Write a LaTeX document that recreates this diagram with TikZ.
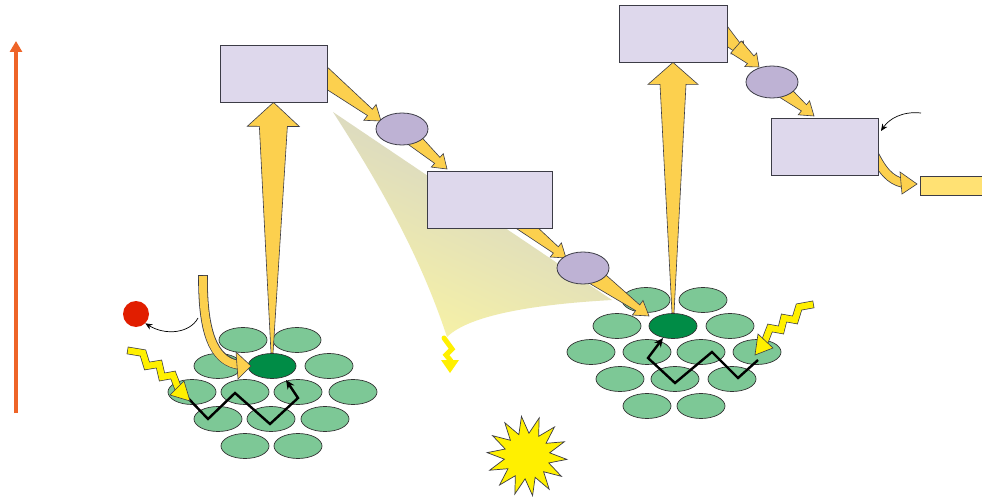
\documentclass[tikz,border=0pt]{standalone}
\usetikzlibrary{calc,shapes.geometric,arrows.meta}

\definecolor{boxfill}{RGB}{222,216,236}
\definecolor{edgegray}{RGB}{60,60,70}
\definecolor{carrier}{RGB}{190,178,212}
\definecolor{flow}{RGB}{252,208,78}
\definecolor{leaf}{RGB}{125,200,150}
\definecolor{core}{RGB}{0,140,70}
\definecolor{bolt}{RGB}{255,240,0}
\definecolor{axis}{RGB}{238,100,40}
\definecolor{redox}{RGB}{225,30,0}
\definecolor{product}{RGB}{255,225,115}
\definecolor{hazetop}{RGB}{208,208,204}
\definecolor{hazemid}{RGB}{220,219,208}
\definecolor{hazebot}{RGB}{247,242,165}

\pgfdeclarelayer{haze}
\pgfdeclarelayer{under}
\pgfsetlayers{haze,under,main}

\tikzset{
  pbox/.style={rectangle, draw=edgegray, fill=boxfill, line width=0.8pt, inner sep=0pt},
  carrierell/.style={ellipse, draw=edgegray, fill=carrier, line width=0.8pt, minimum width=52pt, minimum height=32pt, inner sep=0pt},
  antenna/.style={ellipse, draw=black!80, fill=leaf, line width=0.7pt, minimum width=48pt, minimum height=25pt, inner sep=0pt},
  centre/.style={antenna, fill=core},
  flowshape/.style={fill=flow, draw=edgegray, line width=0.6pt, line join=miter},
  boltshape/.style={fill=bolt, draw=edgegray, line width=0.6pt, line join=miter},
  hop/.style={draw=black, line width=2.4pt, line join=miter, -{Stealth[length=9pt,width=8pt]}},
  thinarrow/.style={draw=black, line width=0.7pt, -{Stealth[length=7pt,width=6pt]}},
}

% tapered block arrow: start, tip, start half-width, neck half-width, head half-width, head length
\newcommand{\flowarrow}[6]{%
  \coordinate (faS) at (#1);
  \coordinate (faT) at (#2);
  \coordinate (faH) at ($(faT)!#6!(faS)$);
  \filldraw[flowshape] ($(faS)!#3!90:(faT)$) -- ($(faH)!#4!-90:(faS)$)
    -- ($(faH)!#5!-90:(faS)$) -- (faT) -- ($(faH)!#5!90:(faS)$)
    -- ($(faH)!#4!90:(faS)$) -- ($(faS)!#3!-90:(faT)$) -- cycle;}

\begin{document}
\begin{tikzpicture}[x=1pt,y=-1pt]
\useasboundingbox (0,0) rectangle (982,497);
\begin{pgfonlayer}{haze}
\fill[white] (0,0) rectangle (982,497);
% emission haze below the chain
\shade[top color=hazetop, middle color=hazemid, bottom color=hazebot, shading angle=-25]
  (333,112) -- (612,300) .. controls (540,304) and (470,314) .. (447,337)
  .. controls (420,255) and (380,185) .. cycle;
\draw[bolt, line width=5pt, line cap=round, line join=miter] (444,338) -- (452,349) -- (446,355) -- (451,361);
\fill[bolt] (441,360) -- (459,360) -- (450,373) -- cycle;
\end{pgfonlayer}

% energy axis
\coordinate (axisfoot) at (16,413);
\coordinate (axishead) at (16,41);
\draw[axis, line width=3.5pt, -{Triangle[length=11pt,width=12pt]}] (axisfoot) -- (axishead);

% complexes and carriers
\node[pbox, minimum width=107pt, minimum height=57pt] (psA) at (273.5,73.5) {};
\node[pbox, minimum width=125pt, minimum height=57pt] (psB) at (489.5,199.5) {};
\node[pbox, minimum width=108pt, minimum height=57pt] (psC) at (673,33.5) {};
\node[pbox, minimum width=107pt, minimum height=57pt] (psD) at (824.5,146.5) {};
\node[rectangle, draw=edgegray, fill=product, line width=0.8pt, minimum width=80pt, minimum height=19pt, inner sep=0pt] (prod) at (960,185.5) {};
\node[carrierell] (E1) at (402,129) {};
\node[carrierell] (E2) at (583,268) {};
\node[carrierell] (E3) at (772,82) {};
\node[centre] (coreL) at (272,366) {};
\node[centre] (coreR) at (673,326) {};

\begin{pgfonlayer}{under}
% antenna clusters
\foreach \x/\y/\n in {243/340/a1, 297/340/a2,
                      218/366/a3, 329/366/a5,
                      192/392/a6, 245/392/a7, 298/392/a8, 353/392/a9,
                      218/419/a10, 271/419/a11, 325/419/a12,
                      245/446/a13, 298/446/a14}
  \node[antenna] (L\n) at (\x,\y) {};
\foreach \x/\y/\n in {646/300/b1, 703/300/b2,
                      617/326/b3, 730/326/b5,
                      591/352/b6, 647/352/b7, 701/352/b8, 757/352/b9,
                      620/379/b10, 675/379/b11, 732/379/b12,
                      647/406/b13, 701/406/b14}
  \node[antenna] (R\n) at (\x,\y) {};

% excitation arrows from the reaction centres
\flowarrow{coreL.north}{psA.south}{1pt}{14pt}{26pt}{24pt}
\flowarrow{coreR.north}{psC.south}{1pt}{13pt}{25pt}{22pt}

% electron transfer steps
\flowarrow{318,72}{381,121}{10pt}{4pt}{10pt}{14pt}
\flowarrow{E1.center}{447,169}{9pt}{4pt}{9pt}{13pt}
\flowarrow{518,220}{566,258}{8pt}{4pt}{9pt}{13pt}
\flowarrow{E2.center}{649,316}{10pt}{3.5pt}{9pt}{14pt}
\flowarrow{719,30}{745,55}{9pt}{5pt}{9pt}{11pt}
\flowarrow{736,47}{759,67}{8pt}{5pt}{9pt}{11pt}
\flowarrow{E3.center}{814,116}{9pt}{4pt}{9pt}{13pt}

% product release from the last complex
\draw[edgegray, line width=9.6pt] (872,150) .. controls (882,171) and (890,180) .. (903,183);
\draw[flow, line width=8pt] (872,150) .. controls (882,171) and (890,180) .. (903,183);
\filldraw[flowshape] (900,172) -- (917,184) -- (902,194) -- cycle;
\end{pgfonlayer}

\coordinate (inD) at (921,113);
\draw[thinarrow] (inD) .. controls (902,111) and (889,119) .. (881,131);

% water side: electron donor arrow and released oxidant
\node[circle, fill=redox, minimum size=26pt, inner sep=0pt] (ox) at (136,314) {};
\coordinate (donor) at (198,318);
\draw[thinarrow] (donor) .. controls (190,333) and (166,336) .. (ox.south east);
\draw[edgegray, line width=9.6pt, line cap=rect] (203,280) .. controls (203,342) and (218,362) .. (240,365);
\draw[flow, line width=8pt, line cap=rect] (203,280) .. controls (203,342) and (218,362) .. (239,365);
\filldraw[flowshape] (236,352) -- (251,366) -- (238,379) -- cycle;

% energy hopping through the antennas
\draw[hop] (188,398) -- (208,419) -- (235,393) -- (270,424) -- (298,398) -- (286,380);
\draw[hop] (758,360) -- (738,378) -- (712,352) -- (675,383) -- (648,358) -- (663,338);

% incoming photons
\draw[edgegray, line width=7.6pt, line cap=rect, line join=miter]
  (131,351) -- (143,353) -- (147,366) -- (159,364) -- (162,377) -- (173,375) -- (178,388);
\draw[bolt, line width=6.2pt, line cap=rect, line join=miter]
  (131,351) -- (143,353) -- (147,366) -- (159,364) -- (162,377) -- (173,375) -- (178,388);
\filldraw[boltshape] (170,395) -- (184,381) -- (190,401) -- cycle;

\draw[edgegray, line width=7.6pt, line cap=rect, line join=miter]
  (810,305) -- (799,307) -- (795,320) -- (784,318) -- (781,330) -- (770,328) -- (765,341);
\draw[bolt, line width=6.2pt, line cap=rect, line join=miter]
  (810,305) -- (799,307) -- (795,320) -- (784,318) -- (781,330) -- (770,328) -- (765,341);
\filldraw[boltshape] (758,334) -- (773,348) -- (755,355) -- cycle;

% light flash
\node[star, star points=14, star point ratio=1.75, minimum size=80pt, inner sep=0pt,
      fill=bolt, draw=edgegray, line width=0.7pt, rotate=8] (flash) at (527,456) {};
\end{tikzpicture}
\end{document}
